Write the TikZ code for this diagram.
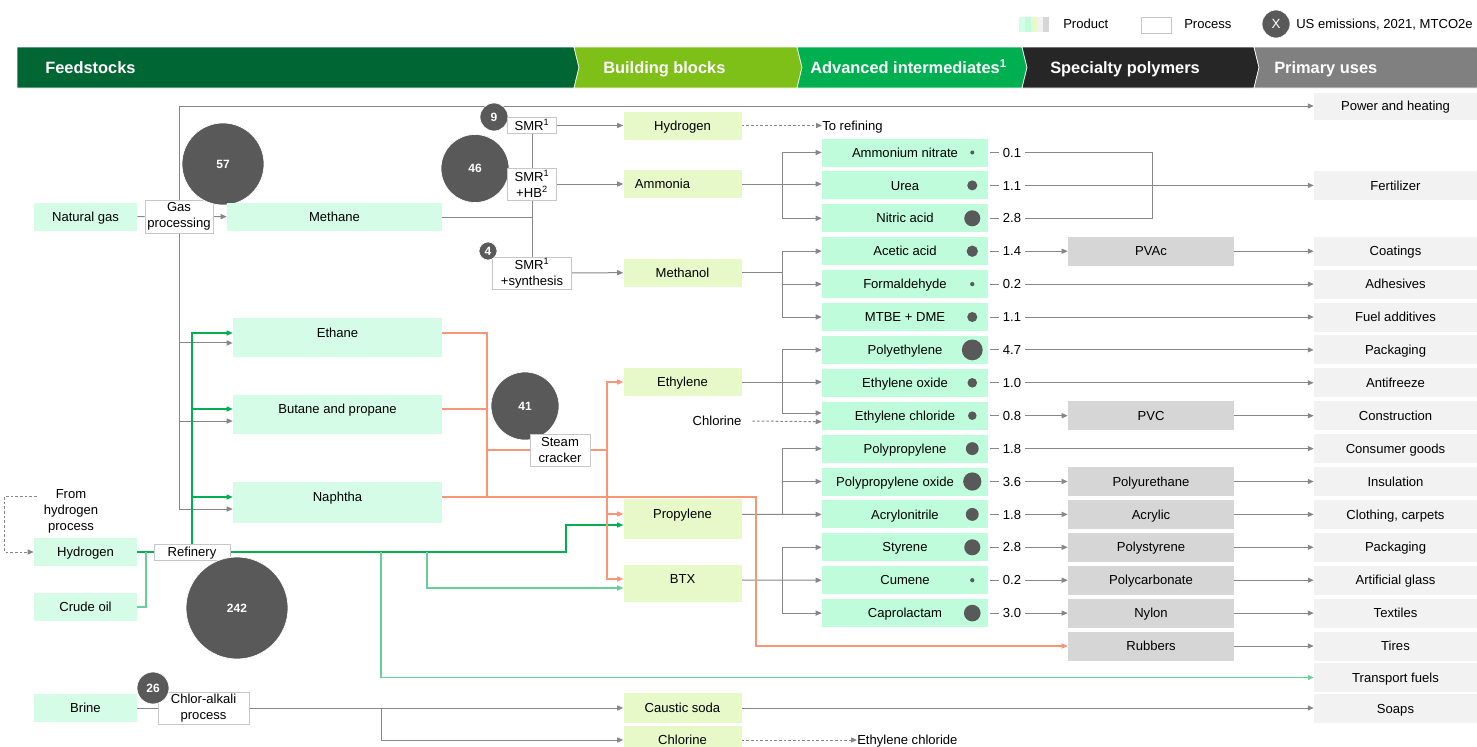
\documentclass[tikz,border=0pt]{standalone}
\usepackage{fontspec}
\setmainfont{Liberation Sans}
\usetikzlibrary{arrows.meta, backgrounds}

\definecolor{feedcol}{RGB}{213,252,231}
\definecolor{intercol}{RGB}{190,252,220}
\definecolor{blockcol}{RGB}{231,248,201}
\definecolor{polycol}{RGB}{214,214,214}
\definecolor{usecol}{RGB}{242,242,242}
\definecolor{emitcol}{RGB}{89,89,89}
\definecolor{linegray}{RGB}{135,135,135}
\definecolor{salmon}{RGB}{248,150,118}
\definecolor{grnline}{RGB}{0,176,80}
\definecolor{hdA}{RGB}{0,102,51}
\definecolor{hdB}{RGB}{126,191,24}
\definecolor{hdC}{RGB}{0,176,80}
\definecolor{hdD}{RGB}{38,38,38}
\definecolor{hdE}{RGB}{128,128,128}

\newcommand{\lift}[2]{\raisebox{#1}[\height][\depth]{#2}}

\begin{document}
\begin{tikzpicture}[x=0.75pt, y=-0.75pt,
    font=\fontsize{9.8}{12}\selectfont,
    box/.style={inner sep=0pt, align=center},
    one/.style={text height=7pt, text depth=0pt},
    feed/.style={box, one, fill=feedcol, minimum height=21pt},
    block/.style={box, one, fill=blockcol, minimum width=88.5pt, minimum height=21pt},
    inter/.style={box, one, fill=intercol, minimum width=124.5pt, minimum height=21pt},
    poly/.style={box, one, fill=polycol, minimum width=124.5pt, minimum height=21.75pt},
    enduse/.style={box, one, fill=usecol, minimum width=122.25pt, minimum height=21.75pt},
    proc/.style={box, draw=black!22, fill=white, line width=0.7pt},
    emit/.style={circle, fill=emitcol, draw=white, line width=0.5pt, inner sep=0pt,
                 text=white, font=\fontsize{9}{10}\selectfont\bfseries},
    head/.style={anchor=west, inner sep=0pt, text=white, text height=8.8pt, text depth=0pt,
                 font=\fontsize{12.3}{14}\selectfont\bfseries},
    gline/.style={draw=linegray, line width=0.75pt},
    arr/.style={gline, -{Triangle[length=4.5pt,width=3.8pt]}},
    dotarr/.style={arr, dash pattern=on 2pt off 1.5pt},
    grn/.style={draw=grnline, line width=0.85pt},
    garr/.style={grn, -{Triangle[length=4.5pt,width=3.8pt]}},
    sal/.style={draw=salmon, line width=0.8pt},
    sarr/.style={sal, -{Triangle[length=4.5pt,width=3.8pt]}}
]
\useasboundingbox (0,0) rectangle (1477,746);

% header band
\foreach \xa/\xb/\nt/\cl in {17/574/0/hdA, 574/797/5/hdB, 797/1022/5/hdC,
                              1022/1254/5/hdD, 1254/1477/5/hdE}
  \filldraw[fill=\cl, draw=white, line width=0.5pt]
    (\xa,47) -- (\xb,47) -- (\xb+5,67.5) -- (\xb,88) -- (\xa,88) -- (\xa+\nt,67.5) -- cycle;
\node[head] (hFeed) at (45,67.5) {Feedstocks};
\node[head] (hBlock) at (603,67.5) {Building blocks};
\node[head] (hInter) at (810,67.5) {Advanced intermediates\textsuperscript{1}};
\node[head] (hPoly) at (1050,67.5) {Specialty polymers};
\node[head] (hUse) at (1274,67.5) {Primary uses};

% legend
\foreach \cl [count=\i from 0] in {feedcol, intercol, blockcol, usecol, polycol}
  \fill[\cl] (1019+6*\i,17) rectangle ++(6,15);
\node[anchor=west, inner sep=0pt, one] (lgProd) at (1063,24) {Product};
\node[proc, minimum width=22.5pt, minimum height=12pt] (lgProc) at (1156,25) {};
\node[anchor=west, inner sep=0pt, one] (lgProcT) at (1184,24) {Process};
\node[emit, minimum size=21pt, font=\fontsize{10}{10}\selectfont] (lgEmit) at (1276,24) {X};
\node[anchor=west, inner sep=0pt, one] (lgEmitT) at (1296,24) {US emissions, 2021, MTCO2e};

% feedstocks
\node[feed, minimum width=77.25pt] (natgas) at (85.5,217) {Natural gas};
\node[proc, minimum width=51pt, minimum height=24.75pt] (gasproc) at (179,216.5) {Gas\\processing};
\node[emit, minimum size=61.5pt] (e57) at (223,164) {57};
\node[feed, minimum width=161.25pt] (methane) at (334.5,217) {Methane};
\node[feed, minimum width=156.75pt, minimum height=29.25pt] (ethane) at (337.5,337.5) {\lift{3.4pt}{Ethane}};
\node[feed, minimum width=156.75pt, minimum height=29.25pt] (butane) at (337.5,414.5) {\lift{4.1pt}{Butane and propane}};
\node[feed, minimum width=156.75pt, minimum height=30.75pt] (naphtha) at (337.5,502.5) {\lift{4.1pt}{Naphtha}};
\node[feed, minimum width=77.25pt] (hydro) at (85.5,552) {Hydrogen};
\node[feed, minimum width=77.25pt] (crude) at (85.5,607) {Crude oil};
\node[feed, minimum width=77.25pt] (brine) at (85.5,708) {Brine};
\node[box] (fromh) at (71,511) {From\\hydrogen\\process};

% processes and emissions
\node[emit, minimum size=21pt] (e9) at (494,117) {9};
\node[emit, minimum size=51pt] (e46) at (475,168.5) {46};
\node[proc, one, minimum width=36.75pt, minimum height=12.5pt] (smrA) at (532,125.5) {SMR\textsuperscript{1}};
\node[proc, minimum width=36.75pt, minimum height=24pt] (smrB) at (532,184) {SMR\textsuperscript{1}\\+HB\textsuperscript{2}};
\node[proc, minimum width=59.25pt, minimum height=24pt] (smrC) at (532,273) {SMR\textsuperscript{1}\\+synthesis};
\node[emit, minimum size=13.5pt] (e4) at (488,251) {4};
\node[emit, minimum size=51pt] (e41) at (525,406) {41};
\node[proc, minimum width=45pt, minimum height=24pt] (steam) at (560,450) {Steam\\cracker};
\node[proc, one, minimum width=57pt, minimum height=12pt] (refinery) at (192,552) {Refinery};
\node[emit, minimum size=76.5pt] (e242) at (237,608) {242};
\node[proc, minimum width=68.25pt, minimum height=24pt] (chloralk) at (203.5,708) {Chlor-alkali\\process};
\node[emit, minimum size=24pt] (e26) at (153,688) {26};

% building blocks
\node[block] (h2) at (682.5,125.5) {Hydrogen};
\node[block] (ammonia) at (682.5,184) {Ammonia\hspace*{30pt}};
\node[block] (methanol) at (682.5,272.5) {Methanol};
\node[block] (ethylene) at (682.5,382) {Ethylene};
\node[block, minimum height=30pt] (propylene) at (682.5,519) {\lift{3.75pt}{Propylene}};
\node[block, minimum height=27.75pt] (btx) at (682.5,583.5) {\lift{3.4pt}{BTX}};
\node[block, minimum height=22.5pt] (caustic) at (682.5,708) {Caustic soda};
\node[block] (chlorine) at (682.5,740) {Chlorine};
\node[anchor=west, inner sep=0pt, one] (toref) at (822,125.5) {To refining};
\node[inner sep=2pt, one] (chlorT) at (717,421) {Chlorine};
\node[anchor=west, inner sep=0pt, one] (ethchl) at (857,740) {Ethylene chloride};

% advanced intermediates with emissions
\foreach \nm/\lbl/\val [count=\k from 0] in {amn/Ammonium nitrate/0.1, urea/Urea/1.1,
    nitric/Nitric acid/2.8, acetic/Acetic acid/1.4, formal/Formaldehyde/0.2,
    mtbe/MTBE + DME/1.1, pe/Polyethylene/4.7, eo/Ethylene oxide/1.0,
    ec/Ethylene chloride/0.8, pp/Polypropylene/1.8,
    ppo/Polypropylene oxide\hspace*{15pt}/3.6, acn/Acrylonitrile/1.8,
    sty/Styrene/2.8, cum/Cumene/0.2, capro/Caprolactam/3.0}{
  \node[inter] (\nm) at (905,152.5+32.9*\k) {\lbl};
  \fill[emitcol] ([xshift=-12pt]\nm.east) circle[radius={max(1.5,3.6*sqrt(\val))*1pt}];
  \node[one, inner xsep=3pt, inner ysep=1pt] (v\k) at (1012,152.5+32.9*\k) {\val};
  \draw[gline] ([xshift=1.5pt]\nm.east) -- (v\k.west);
}

% specialty polymers
\foreach \nm/\lbl/\k in {pvac/PVAc/3, pvc/PVC/8, pu/Polyurethane/10, acry/Acrylic/11,
    ps/Polystyrene/12, pc/Polycarbonate/13, nylon/Nylon/14}{
  \node[poly] (\nm) at (1151,152.5+32.9*\k) {\lbl};
  \draw[arr] (v\k.east) -- (\nm.west);
}
\node[poly] (rubber) at (1151,646) {Rubbers};

% primary uses
\foreach \nm/\lbl/\k in {uFert/Fertilizer/1, uCoat/Coatings/3, uAdh/Adhesives/4,
    uFuel/Fuel additives/5, uPack/Packaging/6, uAnti/Antifreeze/7,
    uCons/Construction/8, uCg/Consumer goods/9, uIns/Insulation/10,
    uCloth/{Clothing, carpets}/11, uPack2/Packaging/12, uGlass/Artificial glass/13,
    uText/Textiles/14}
  \node[enduse] (\nm) at (1395.5,152.5+32.9*\k) {\lbl};
\node[enduse, minimum height=20.25pt] (uPower) at (1395.5,106) {Power and heating};
\node[enduse] (uTires) at (1395.5,646) {Tires};
\node[enduse] (uTrans) at (1395.5,677.5) {Transport fuels};
\node[enduse] (uSoap) at (1395.5,708.5) {Soaps};

\begin{scope}[on background layer]
% gray flows
\draw[gline] (natgas) -- (gasproc);
\draw[arr] (gasproc) -- (methane);
\draw[arr] (gasproc.north) |- (uPower.west);
\draw[arr] (gasproc.south) |- ([yshift=-4.1pt]ethane.west);
\draw[arr] (gasproc.south) |- ([yshift=-4.9pt]butane.west);
\draw[arr] (gasproc.south) |- ([yshift=-4.9pt]naphtha.west);
\draw[gline] (methane.east) -- (methane.east -| smrB.south);
\draw[gline] (smrA) -- (smrB) -- (smrC);
\draw[arr] (smrA) -- (h2);
\draw[arr] (smrB) -- (ammonia);
\draw[arr] (smrC) -- (methanol);
\draw[dotarr] (h2) -- (toref);

\coordinate (jAm) at (782,184);
\draw[arr] (ammonia.east) -- (ammonia.east -| urea.west);
\draw[arr] (jAm) |- (amn.west);
\draw[arr] (jAm) |- (nitric.west);

\coordinate (jMe) at (782,272.5);
\draw[gline] (methanol.east) -- (jMe);
\draw[arr] (jMe) |- (acetic.west);
\draw[arr] (jMe) |- (formal.west);
\draw[arr] (jMe) |- (mtbe.west);

\coordinate (jEt) at (782,382);
\draw[arr] (ethylene.east) -- (ethylene.east -| eo.west);
\draw[arr] (jEt) |- (pe.west);
\draw[arr] (jEt) |- ([yshift=2pt]ec.west);
\draw[dotarr] ([xshift=6pt]chlorT.east) -- ([yshift=-4.5pt]ec.west);

\coordinate (jPr) at (782,514.4);
\draw[arr] ([yshift=3.45pt]propylene.east) -- (acn.west);
\draw[arr] (jPr) |- (pp.west);
\draw[arr] (jPr) |- (ppo.west);

\coordinate (jBt) at (782,580.2);
\draw[arr] ([yshift=2.5pt]btx.east) -- (cum.west);
\draw[arr] (jBt) |- (sty.west);
\draw[arr] (jBt) |- (capro.west);

\coordinate (jFt) at (1152,152.5);
\draw[gline] (v0.east) -- (jFt) |- (v2.east);
\foreach \a/\b in {v1/uFert, v4/uAdh, v5/uFuel, v6/uPack, v7/uAnti, v9/uCg,
    pvac/uCoat, pvc/uCons, pu/uIns, acry/uCloth, ps/uPack2, pc/uGlass,
    nylon/uText, rubber/uTires}
  \draw[arr] (\a.east) -- (\b.west);

\draw[gline] (brine) -- (chloralk);
\draw[arr] (chloralk) -- (caustic);
\coordinate (jCl) at (381,708);
\draw[arr] (jCl) |- (chlorine.west);
\draw[arr] (caustic) -- (caustic.east -| uSoap.west);
\draw[dotarr] (chlorine) -- (ethchl);
\draw[dotarr, line width=0.6pt] ([xshift=-5pt,yshift=11pt]fromh.west) -- ++(-24pt,0) |- (hydro.west);

% refinery flows
\draw[grn] (hydro) -- (refinery);
\coordinate (jCr) at (146,552);
\draw[grn, draw=grnline!60] (crude.east) -| (jCr);
\draw[garr] (refinery.north) |- ([yshift=3.4pt]ethane.west);
\draw[garr] (refinery.north) |- ([yshift=4.125pt]butane.west);
\draw[garr] (refinery.north) |- ([yshift=4.125pt]naphtha.west);
\coordinate (jGp) at (566,552);
\draw[garr] (refinery.east) -- (jGp) |- ([yshift=-4.5pt]propylene.west);
\coordinate (jGb) at (427,552);
\draw[garr, draw=grnline!60] (jGb) |- ([yshift=-3.4pt]btx.west);
\coordinate (jGt) at (381,552);
\draw[garr, draw=grnline!60] (jGt) |- (uTrans.west);

% steam cracker flows
\coordinate (jSn) at (487,497);
\coordinate (jSm) at (487,450);
\coordinate (jSo) at (607,450);
\coordinate (jRb) at (756,497);
\draw[sal] ([yshift=3.4pt]ethane.east) -| (jSn);
\draw[sal] ([yshift=4.125pt]butane.east) -- ([yshift=4.125pt]butane.east -| jSn);
\draw[sal] ([yshift=4.125pt]naphtha.east) -- (jSn);
\draw[sal] (jSm) -- (steam.west);
\draw[sal] (steam.east) -- (jSo);
\draw[sarr] (jSo) |- (ethylene.west);
\draw[sarr] (jSo) |- ([yshift=3.75pt]propylene.west);
\draw[sarr] (jSo) |- ([yshift=3.4pt]btx.west);
\draw[sarr] (jSn) -- (jRb) |- (rubber.west);
\end{scope}
\end{tikzpicture}
\end{document}
